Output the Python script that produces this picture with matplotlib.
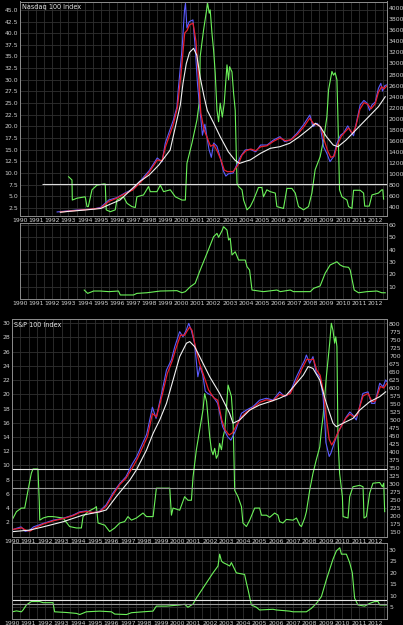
import numpy as np
import matplotlib
matplotlib.use('Agg')
import matplotlib.pyplot as plt
from matplotlib.ticker import MultipleLocator, FormatStrFormatter

plt.rcParams['font.family'] = ['Liberation Sans Narrow', 'DejaVu Sans']

# ---------------- Nasdaq 100 (top two panels) ----------------
nq_t = [1992.3, 1992.6, 1993.0, 1993.5, 1994.0, 1994.5, 1995.0, 1995.5, 1996.0, 1996.5,
        1997.0, 1997.5, 1998.0, 1998.5, 1998.8, 1999.0, 1999.5, 1999.72, 1999.8, 2000.03,
        2000.19, 2000.25, 2000.34, 2000.48, 2000.71, 2000.85, 2001.0, 2001.2, 2001.3, 2001.45,
        2001.7, 2001.85, 2002.0, 2002.2, 2002.4, 2002.6, 2002.75, 2002.9, 2003.2, 2003.4,
        2003.65, 2003.95, 2004.25, 2004.6, 2004.9, 2005.3, 2005.7, 2006.1, 2006.4, 2006.75,
        2007.15, 2007.55, 2007.95, 2008.15, 2008.4, 2008.6, 2008.8, 2009.0, 2009.2, 2009.42,
        2009.63, 2009.85, 2010.04, 2010.3, 2010.5, 2010.66, 2010.85, 2011.07, 2011.3, 2011.5,
        2011.65, 2011.8, 2012.0, 2012.2, 2012.35, 2012.45, 2012.6, 2012.7]
nq_price = [310, 320, 330, 345, 355, 360, 395, 527, 570, 654,
            726, 890, 1058, 1288, 1220, 1560, 1976, 2212, 2520, 3245,
            3970, 4090, 3643, 3757, 3790, 3300, 2600, 2000, 1700, 1900,
            1450, 1300, 1560, 1500, 1300, 1050, 960, 1000, 1016, 1150,
            1311, 1433, 1445, 1400, 1523, 1523, 1614, 1674, 1583, 1614,
            1735, 1886, 2067, 1855, 1917, 1855, 1493, 1373, 1221, 1311,
            1554, 1700, 1740, 1870, 1760, 1690, 1950, 2250, 2330, 2280,
            2150, 2250, 2300, 2550, 2640, 2500, 2600, 2610]

nq_fast_t = [1992.5, 1993.0, 1994.0, 1995.0, 1995.5, 1996.0, 1996.5, 1997.0, 1997.5, 1998.0,
             1998.5, 1998.8, 1999.0, 1999.5, 1999.75, 2000.0, 2000.2, 2000.35, 2000.5, 2000.72,
             2000.9, 2001.05, 2001.2, 2001.4, 2001.6, 2001.8, 2002.0, 2002.2, 2002.45, 2002.65,
             2002.85, 2003.2, 2003.5, 2003.75, 2004.0, 2004.3, 2004.6, 2004.9, 2005.3, 2005.7,
             2006.1, 2006.45, 2006.8, 2007.2, 2007.6, 2007.95, 2008.2, 2008.45, 2008.65, 2008.85,
             2009.05, 2009.25, 2009.45, 2009.65, 2009.9, 2010.1, 2010.35, 2010.6, 2010.8, 2011.05,
             2011.3, 2011.55, 2011.75, 2012.0, 2012.2, 2012.4, 2012.55, 2012.7]
nq_fast = [310, 325, 350, 380, 500, 560, 640, 710, 860, 1030,
           1250, 1240, 1480, 1900, 2200, 2900, 3550, 3600, 3700, 3730,
           3400, 2800, 2100, 1800, 1650, 1500, 1530, 1420, 1250, 1070,
           1040, 1040, 1160, 1340, 1420, 1450, 1420, 1490, 1510, 1590,
           1650, 1600, 1620, 1720, 1860, 2010, 1900, 1890, 1840, 1600,
           1420, 1300, 1320, 1520, 1680, 1750, 1830, 1730, 1860, 2170,
           2290, 2260, 2180, 2270, 2480, 2580, 2540, 2590]

nq_slow_t = [1992.5, 1993.0, 1994.0, 1995.0, 1995.5, 1996.2, 1997.4, 1998.0, 1998.6, 1999.3,
             1999.93, 2000.1, 2000.3, 2000.5, 2000.75, 2000.95, 2001.16, 2001.4, 2001.6, 2002.0,
             2002.4, 2002.9, 2003.3, 2003.6, 2004.0, 2004.26, 2004.9, 2005.5, 2006.1, 2006.7,
             2007.3, 2007.95, 2008.3, 2008.6, 2008.98, 2009.4, 2009.7, 2010.2, 2010.8, 2011.4,
             2012.2, 2012.62]
nq_slow = [305, 320, 345, 373, 440, 527, 858, 980, 1161, 1433,
           2250, 2650, 3000, 3200, 3275, 3150, 2750, 2400, 2150, 1917,
           1674, 1402, 1252, 1190, 1230, 1252, 1373, 1463, 1493, 1554,
           1674, 1826, 1917, 1855, 1674, 1523, 1493, 1614, 1795, 1976,
           2217, 2398]

nq_osc_t = [1993.01, 1993.22, 1993.24, 1993.53, 1994.04, 1994.15, 1994.23, 1994.46, 1994.77, 1995.18,
            1995.28, 1995.34, 1995.59, 1995.9, 1996.0, 1996.41, 1996.63, 1996.93, 1997.14, 1997.24,
            1997.65, 1997.96, 1998.07, 1998.48, 1998.69, 1998.89, 1999.31, 1999.62, 2000.03, 2000.24,
            2000.34, 2000.65, 2000.96, 2001.12, 2001.16, 2001.37, 2001.62, 2001.72, 2001.78, 2001.89,
            2001.99, 2002.09, 2002.2, 2002.3, 2002.4, 2002.53, 2002.65, 2002.82, 2002.92, 2002.98,
            2003.13, 2003.23, 2003.33, 2003.44, 2003.54, 2003.75, 2003.85, 2004.06, 2004.26, 2004.46,
            2004.77, 2004.98, 2005.08, 2005.29, 2005.5, 2005.81, 2005.91, 2006.32, 2006.53, 2006.84,
            2007.05, 2007.25, 2007.56, 2007.87, 2008.08, 2008.28, 2008.59, 2008.8, 2009.01, 2009.11,
            2009.32, 2009.42, 2009.52, 2009.63, 2009.68, 2009.79, 2009.94, 2010.25, 2010.35, 2010.56,
            2010.66, 2011.07, 2011.28, 2011.35, 2011.63, 2011.8, 2012.2, 2012.41, 2012.47, 2012.52]
nq_osc = [9.2, 8.5, 4.2, 4.6, 4.9, 2.8, 2.8, 6.4, 7.4, 7.65,
          7.65, 2.1, 1.7, 2.1, 4.2, 4.9, 3.5, 2.8, 2.6, 4.9,
          5.3, 7.1, 6.0, 6.0, 7.4, 6.0, 6.4, 4.9, 4.2, 4.2,
          12.1, 16.4, 21.4, 25.7, 35.0, 40.7, 46.4, 44.3, 45.0, 40.0,
          36.4, 31.5, 23.5, 21.0, 25.0, 22.0, 25.0, 33.2, 30.0, 32.8,
          31.7, 27.1, 23.5, 7.8, 7.1, 6.4, 4.2, 2.1, 2.8, 4.2,
          6.9, 6.9, 4.9, 6.4, 6.0, 5.7, 2.8, 2.4, 6.7, 6.7,
          5.7, 2.8, 2.1, 2.8, 5.7, 10.7, 13.5, 17.1, 22.1, 27.8,
          31.8, 31.0, 31.5, 30.0, 23.5, 6.4, 4.9, 4.2, 2.8, 2.4,
          6.3, 6.3, 5.7, 2.9, 2.9, 5.3, 5.7, 6.4, 6.4, 4.4]
nq_osc_level = 7.65
nq_osc_level_start = 1991.36

nq_vol_t = [1993.98, 1994.19, 1994.56, 1994.97, 1995.5, 1996.1, 1996.21, 1997.03, 1997.24, 1997.86,
            1998.69, 1999.72, 2000.03, 2000.24, 2000.55, 2000.85, 2001.16, 2001.58, 2001.99, 2002.2,
            2002.3, 2002.51, 2002.61, 2002.82, 2002.92, 2003.02, 2003.13, 2003.33, 2003.54, 2003.95,
            2004.06, 2004.22, 2004.37, 2005.08, 2005.91, 2006.12, 2006.74, 2006.94, 2007.98, 2008.19,
            2008.59, 2008.9, 2009.21, 2009.63, 2009.83, 2010.04, 2010.35, 2010.45, 2010.7, 2010.97,
            2011.49, 2012.11, 2012.41, 2012.62]
nq_vol = [7.3, 4.6, 6.5, 6.5, 6.0, 6.5, 3.3, 3.3, 4.6, 5.1,
          6.5, 6.8, 5.1, 6.0, 10.0, 12.8, 23.5, 37.0, 50.5, 53.2,
          50.0, 55.3, 58.6, 55.9, 47.8, 49.2, 35.7, 38.3, 31.6, 31.6,
          26.2, 23.5, 7.3, 6.0, 7.3, 6.0, 7.3, 6.0, 6.0, 8.7,
          10.6, 20.9, 27.6, 30.2, 27.6, 26.2, 25.7, 23.5, 7.3, 5.1,
          6.0, 6.5, 5.1, 5.1]

# ---------------- S&P 100 (bottom two panels) ----------------
sp_t = [1990.0, 1990.3, 1990.55, 1990.8, 1991.05, 1991.3, 1991.9, 1992.5, 1993.1, 1993.7,
        1994.1, 1994.5, 1994.9, 1995.3, 1995.7, 1996.1, 1996.5, 1996.9, 1997.25, 1997.55,
        1997.9, 1998.15, 1998.5, 1998.72, 1999.1, 1999.35, 1999.65, 1999.85, 2000.15, 2000.35,
        2000.55, 2000.7, 2000.85, 2001.05, 2001.25, 2001.38, 2001.55, 2001.7, 2001.85, 2002.15,
        2002.45, 2002.75, 2003.05, 2003.25, 2003.55, 2003.89, 2004.19, 2004.59, 2004.99, 2005.4,
        2005.8, 2006.2, 2006.51, 2006.81, 2007.22, 2007.52, 2007.72, 2007.82, 2008.02, 2008.22,
        2008.42, 2008.63, 2008.83, 2008.93, 2009.0, 2009.2, 2009.3, 2009.5, 2009.71, 2009.81,
        2010.24, 2010.45, 2010.64, 2010.84, 2011.24, 2011.55, 2011.76, 2011.96, 2012.26, 2012.46,
        2012.62, 2012.7]
sp_price = [156, 162, 166, 152, 155, 166, 177, 187, 193, 203,
            213, 216, 210, 215, 235, 271, 300, 323, 360, 386,
            427, 455, 540, 505, 594, 656, 688, 729, 776, 760,
            781, 802, 781, 740, 635, 667, 640, 590, 583, 575,
            552, 479, 448, 437, 469, 521, 531, 542, 562, 568,
            562, 588, 573, 583, 635, 667, 688, 703, 677, 698,
            646, 635, 573, 500, 430, 386, 396, 427, 458, 469,
            510, 525, 515, 500, 583, 588, 552, 552, 615, 604,
            625, 620]

sp_fast_t = [1990.0, 1990.3, 1990.6, 1990.85, 1991.1, 1991.4, 1991.9, 1992.5, 1993.1, 1993.7,
             1994.1, 1994.5, 1994.9, 1995.3, 1995.7, 1996.1, 1996.5, 1996.9, 1997.3, 1997.6,
             1997.95, 1998.2, 1998.5, 1998.75, 1999.1, 1999.4, 1999.7, 1999.9, 2000.2, 2000.45,
             2000.6, 2000.75, 2000.9, 2001.1, 2001.35, 2001.6, 2001.9, 2002.2, 2002.45, 2002.7,
             2002.9, 2003.15, 2003.35, 2003.6, 2003.9, 2004.2, 2004.6, 2005.0, 2005.4, 2005.8,
             2006.2, 2006.5, 2006.85, 2007.25, 2007.55, 2007.85, 2008.05, 2008.25, 2008.45, 2008.65,
             2008.85, 2009.0, 2009.2, 2009.35, 2009.5, 2009.81, 2010.2, 2010.45, 2010.7, 2010.9,
             2011.25, 2011.55, 2011.8, 2012.0, 2012.3, 2012.5, 2012.7]
sp_fast = [158, 160, 163, 155, 153, 163, 175, 185, 192, 201,
           211, 214, 211, 213, 230, 265, 297, 318, 352, 380,
           420, 448, 520, 510, 580, 645, 685, 720, 765, 765,
           778, 790, 780, 729, 677, 640, 594, 570, 562, 500,
           469, 453, 460, 485, 510, 525, 538, 555, 563, 560,
           580, 575, 583, 625, 660, 690, 688, 690, 655, 640,
           590, 520, 440, 422, 435, 469, 505, 518, 510, 515,
           575, 583, 557, 560, 605, 600, 615]

sp_slow_t = [1990.0, 1991.07, 1991.88, 1993.09, 1994.3, 1995.31, 1995.71, 1996.32, 1997.13, 1997.53,
             1998.14, 1998.54, 1998.94, 1999.35, 1999.75, 2000.15, 2000.56, 2000.76, 2001.06, 2001.36,
             2001.97, 2002.57, 2003.17, 2003.38, 2003.78, 2004.39, 2004.99, 2005.6, 2006.2, 2006.61,
             2007.22, 2007.63, 2007.93, 2008.22, 2008.63, 2009.03, 2009.43, 2009.63, 2010.04, 2010.64,
             2011.05, 2011.65, 2012.26, 2012.62]
sp_slow = [151, 156, 166, 182, 203, 213, 219, 261, 312, 344,
           406, 458, 500, 552, 625, 698, 740, 745, 729, 698,
           635, 583, 521, 490, 500, 531, 547, 557, 568, 578,
           615, 640, 667, 661, 625, 552, 490, 479, 490, 505,
           531, 557, 573, 588]

sp_osc_t = [1990.0, 1990.27, 1990.57, 1990.77, 1990.97, 1991.17, 1991.27, 1991.57, 1991.65, 1991.68,
            1991.88, 1992.18, 1992.48, 1993.09, 1993.49, 1993.9, 1994.2, 1994.3, 1994.6, 1995.0,
            1995.11, 1995.21, 1995.61, 1995.91, 1996.22, 1996.52, 1996.82, 1997.02, 1997.23, 1997.53,
            1997.93, 1998.14, 1998.54, 1998.74, 1999.55, 1999.65, 1999.75, 2000.15, 2000.45, 2000.65,
            2000.86, 2000.96, 2001.16, 2001.36, 2001.56, 2001.66, 2001.78, 2001.97, 2002.07, 2002.17,
            2002.27, 2002.37, 2002.47, 2002.57, 2002.68, 2002.78, 2002.88, 2003.08, 2003.28, 2003.38,
            2003.42, 2003.48, 2003.68, 2003.89, 2003.98, 2004.19, 2004.39, 2004.69, 2004.99, 2005.1,
            2005.4, 2005.6, 2005.9, 2006.1, 2006.2, 2006.4, 2006.61, 2007.01, 2007.22, 2007.42,
            2007.52, 2007.72, 2007.82, 2008.02, 2008.22, 2008.42, 2008.63, 2008.73, 2008.83, 2009.03,
            2009.23, 2009.33, 2009.43, 2009.53, 2009.6, 2009.67, 2009.73, 2009.83, 2010.0, 2010.04,
            2010.34, 2010.44, 2010.64, 2011.05, 2011.25, 2011.31, 2011.45, 2011.65, 2011.85, 2012.26,
            2012.42, 2012.5, 2012.56]
sp_osc = [2.3, 3.5, 4.0, 4.0, 6.5, 8.9, 9.5, 9.5, 5.0, 2.3,
          2.6, 2.8, 2.8, 2.6, 1.4, 1.2, 1.2, 2.8, 3.5, 4.0,
          4.2, 1.9, 1.6, 0.7, 1.2, 1.9, 2.1, 2.8, 2.3, 2.6,
          3.3, 2.8, 2.8, 6.8, 6.8, 3.0, 4.0, 3.7, 5.6, 5.1,
          5.1, 8.4, 12.2, 15.0, 17.8, 20.1, 19.0, 14.0, 12.2, 11.5,
          12.4, 11.0, 11.5, 13.1, 12.2, 14.0, 15.0, 21.3, 19.7, 16.4,
          12.6, 6.5, 5.6, 4.2, 1.9, 1.4, 2.3, 4.0, 4.0, 3.0,
          3.0, 2.7, 3.3, 3.0, 2.1, 1.9, 2.4, 2.3, 2.6, 1.6,
          1.4, 2.6, 3.5, 6.5, 8.9, 10.8, 12.6, 15.0, 16.9, 22.5,
          27.2, 30.0, 29.0, 27.2, 28.1, 26.7, 14.0, 8.9, 5.6, 2.8,
          2.6, 5.6, 7.0, 7.2, 7.0, 2.6, 2.8, 6.1, 7.5, 7.6,
          7.0, 7.5, 3.5]
sp_osc_upper = 9.45
sp_osc_lower = 6.87

sp_vol_t = [1990.02, 1990.27, 1990.57, 1990.67, 1990.87, 1991.17, 1991.68, 1991.88, 1992.48, 1992.58,
            1993.29, 1993.9, 1994.1, 1994.5, 1995.31, 1996.02, 1996.22, 1996.93, 1997.23, 1997.93,
            1998.54, 1998.74, 1999.35, 2000.15, 2000.45, 2000.65, 2000.96, 2001.16, 2001.36, 2001.77,
            2002.17, 2002.47, 2002.57, 2002.68, 2002.78, 2002.98, 2003.18, 2003.28, 2003.38, 2003.58,
            2003.78, 2004.08, 2004.19, 2004.29, 2004.49, 2004.79, 2004.99, 2005.8, 2006.0, 2006.81,
            2007.01, 2007.82, 2008.12, 2008.43, 2008.73, 2009.03, 2009.43, 2009.64, 2009.84, 2009.94,
            2010.24, 2010.44, 2010.6, 2010.74, 2010.94, 2011.35, 2011.65, 2011.96, 2012.16, 2012.26,
            2012.66]
sp_vol = [2.9, 3.3, 2.9, 3.7, 5.9, 7.4, 7.4, 6.9, 6.9, 2.9,
          2.6, 2.2, 1.7, 2.9, 3.2, 2.9, 1.9, 1.7, 2.5, 2.9,
          3.2, 5.4, 5.4, 5.9, 6.2, 4.9, 6.3, 8.9, 11.1, 15.6,
          20.0, 23.0, 28.2, 25.2, 24.5, 23.8, 23.0, 24.5, 23.0, 20.0,
          19.7, 19.3, 15.6, 12.6, 5.9, 4.9, 3.7, 4.0, 3.7, 3.2,
          2.9, 2.9, 4.4, 6.6, 9.6, 17.0, 26.0, 29.7, 31.0, 28.2,
          28.2, 24.5, 20.0, 8.9, 5.9, 5.4, 6.6, 7.4, 7.4, 5.9,
          5.9]
sp_vol_upper = 8.1
sp_vol_lower = 6.3

years = list(range(1990, 2013))

# ---------------- layout / styling ----------------
W, H = 403, 625
X0, X1 = 1990, 2012.7
BLUE, RED, WHITE, GREEN = '#5c5cff', '#e8202c', '#f2f2f2', '#6cf25a'
GRID, EDGE, TXT = '#303030', '#8a8a8a', '#cfcfcf'
FS = 4.4

fig = plt.figure(figsize=(W / 100, H / 100), dpi=100, facecolor='black')


def box(l, t, r, b):
    return [l / W, 1 - b / H, (r - l) / W, (b - t) / H]


def base(ax):
    ax.set_facecolor('black')
    ax.set_xlim(X0, X1)
    ax.set_xticks(years)
    ax.xaxis.set_major_formatter(FormatStrFormatter('%d'))
    ax.xaxis.set_minor_locator(MultipleLocator(0.5))
    ax.tick_params(which='both', length=0, pad=1.5, labelsize=FS, colors=TXT)
    ax.xaxis.grid(True, which='both', color=GRID, lw=0.6)
    ax.yaxis.grid(True, which='major', color=GRID, lw=0.6)
    ax.set_axisbelow(True)
    for s in ax.spines.values():
        s.set_color(EDGE)
        s.set_linewidth(0.7)


def price_panel(rect, title, pt, pv, ft, fv, st, sv, ot, ov, left_lim, left_step, left_fmt,
                right_lim, right_step):
    ax = fig.add_axes(rect)
    base(ax)
    ax.set_ylim(*left_lim)
    ax.yaxis.set_major_formatter(FormatStrFormatter(left_fmt))
    ax.plot(ot, ov, color=GREEN, lw=0.8)
    ax2 = ax.twinx()
    ax2.set_ylim(*right_lim)
    ax2.yaxis.set_major_formatter(FormatStrFormatter('%d'))
    ax2.tick_params(length=0, pad=1.5, labelsize=FS, colors=TXT)
    for s in ax2.spines.values():
        s.set_color(EDGE)
        s.set_linewidth(0.7)
    ax2.plot(pt, pv, color=BLUE, lw=0.8)
    ax2.plot(ft, fv, color=RED, lw=0.9)
    ax2.plot(st, sv, color=WHITE, lw=0.8)
    ax.text(0.005, 0.988, title, transform=ax.transAxes, ha='left', va='top',
            fontsize=FS + 0.3, color='#e6e6e6')
    ax.set_yticks(np.arange(left_step, left_lim[1], left_step))
    ax2.set_yticks(np.arange(right_lim[0] - right_lim[0] % right_step + right_step,
                             right_lim[1], right_step))
    return ax, ax2


def vol_panel(rect, t, v, lim, step):
    ax = fig.add_axes(rect)
    base(ax)
    ax.yaxis.tick_right()
    ax.set_ylim(*lim)
    ax.set_yticks(np.arange(step, lim[1], step))
    ax.yaxis.set_major_formatter(FormatStrFormatter('%d'))
    ax.plot(t, v, color=GREEN, lw=0.8)
    return ax


# Nasdaq 100
ax1, ax1r = price_panel(box(20, 1.5, 386.5, 216), 'Nasdaq 100 Index',
                        nq_t, nq_price, nq_fast_t, nq_fast, nq_slow_t, nq_slow,
                        nq_osc_t, nq_osc, (0.78, 46.8), 2.5, '%.1f', (237, 4123), 200)
ax1.hlines(nq_osc_level, nq_osc_level_start, X1, color='#dcdcdc', lw=0.8)

ax2 = vol_panel(box(20, 223, 386.5, 299), nq_vol_t, nq_vol, (0.04, 61.6), 10)

# S&P 100
ax3, ax3r = price_panel(box(12, 319, 387, 537), 'S&P 100 Index',
                        sp_t, sp_price, sp_fast_t, sp_fast, sp_slow_t, sp_slow,
                        sp_osc_t, sp_osc, (-0.07, 30.6), 2, '%d', (134.4, 815.6), 25)
ax3.axhline(sp_osc_upper, color='#e6e6e6', lw=0.8)
ax3.axhline(sp_osc_lower, color='#9a9a9a', lw=0.8)

ax4 = vol_panel(box(12, 543, 387, 619), sp_vol_t, sp_vol, (-0.26, 33.1), 5)
ax4.axhline(sp_vol_upper, color='#e6e6e6', lw=0.8)
ax4.axhline(sp_vol_lower, color='#9a9a9a', lw=0.8)

fig.savefig('out.png', dpi=100, facecolor='black')
